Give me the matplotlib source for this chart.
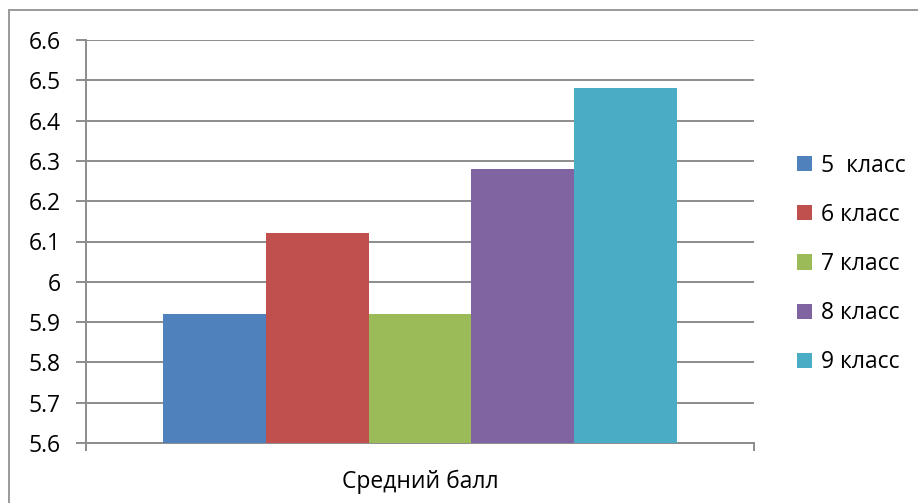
import matplotlib
matplotlib.use("Agg")
import matplotlib.pyplot as plt
from matplotlib.lines import Line2D

# Average score per grade
grades = ["5  класс", "6 класс", "7 класс", "8 класс", "9 класс"]
scores = [5.92, 6.12, 5.92, 6.28, 6.48]
colors = ["#4F81BD", "#C0504D", "#9BBB59", "#8064A2", "#4BACC6"]
category = "Средний балл"
y_ticks = [5.6, 5.7, 5.8, 5.9, 6.0, 6.1, 6.2, 6.3, 6.4, 6.5, 6.6]
y_labels = ["5.6", "5.7", "5.8", "5.9", "6", "6.1", "6.2", "6.3", "6.4", "6.5", "6.6"]

plt.rcParams["font.family"] = ["Open Sans", "DejaVu Sans"]
plt.rcParams["font.size"] = 16.5

fig = plt.figure(figsize=(9.18, 5.03), dpi=100)
ax = fig.add_axes([86 / 918, 1 - 443 / 503, (754 - 86) / 918, (443 - 40) / 503])

# clustered columns, Excel-like 150% gap width
width = 1 / (len(scores) + 1.5)
for i, (g, v, c) in enumerate(zip(grades, scores, colors)):
    x = 0.5 + (i - (len(scores) - 1) / 2) * width
    ax.bar(x, v - 5.6, bottom=5.6, width=width, color=c, label=g, zorder=3)

grid_c = "#8C8C8C"
ax.set_xlim(0, 1)
ax.set_ylim(5.6, 6.6)
ax.set_yticks(y_ticks)
ax.set_yticklabels(y_labels)
ax.yaxis.grid(True, color=grid_c, linewidth=1.4, zorder=0)
ax.set_axisbelow(True)

ax.set_xticks([0.5])
ax.set_xticklabels([category])
ax.set_xticks([0, 1], minor=True)
ax.tick_params(axis="x", which="major", length=0, pad=19)
ax.tick_params(axis="x", which="minor", length=6, width=1.4, color=grid_c)
ax.tick_params(axis="y", length=7, width=1.4, color=grid_c, pad=11)

for s in ["top", "right"]:
    ax.spines[s].set_visible(False)
for s in ["left", "bottom"]:
    ax.spines[s].set_color(grid_c)
    ax.spines[s].set_linewidth(1.4)

ax.legend(loc="center left", bbox_to_anchor=(1.051, 0.444), frameon=False,
          handlelength=0.65, handleheight=0.65, handletextpad=0.4,
          labelspacing=1.1, borderaxespad=0)

# chart area border
bc = "#9A9A9A"
fig.add_artist(Line2D([9 / 918, 9 / 918], [0, 1 - 10 / 503], transform=fig.transFigure,
                      color=bc, linewidth=1.4))
fig.add_artist(Line2D([9 / 918, 1], [1 - 10 / 503, 1 - 10 / 503], transform=fig.transFigure,
                      color=bc, linewidth=1.4))

fig.savefig("out.png", dpi=100)
